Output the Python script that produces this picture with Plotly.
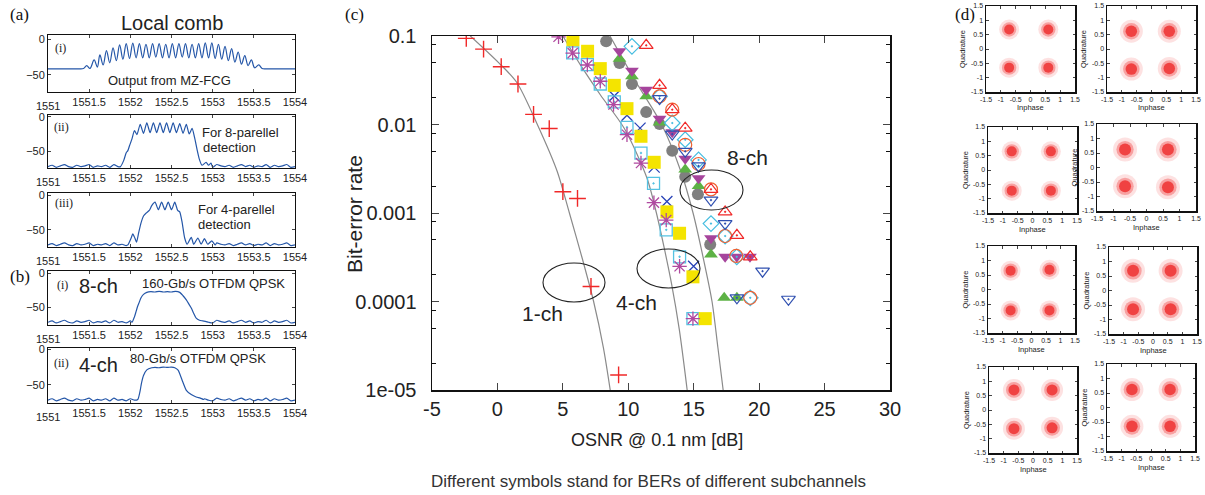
import plotly.graph_objects as go

W, H = 1205, 495
SANS = "Liberation Sans, Arial, sans-serif"
SERIF = "Liberation Serif, Times New Roman, serif"

# ---------------- panel (a)/(b): optical spectra ----------------
comb_wl = [1551.00, 1551.20, 1551.38, 1551.43, 1551.47, 1551.51, 1551.56, 1551.60, 1551.63, 1551.67,
           1551.71, 1551.75, 1551.79, 1551.83, 1551.87, 1551.91, 1551.95, 1551.99, 1552.03, 1552.07,
           1552.11, 1552.15, 1552.19, 1552.23, 1552.27, 1552.31, 1552.35, 1552.39, 1552.43, 1552.47,
           1552.51, 1552.55, 1552.59, 1552.63, 1552.67, 1552.71, 1552.75, 1552.79, 1552.83, 1552.87,
           1552.91, 1552.95, 1552.99, 1553.03, 1553.07, 1553.11, 1553.15, 1553.19, 1553.23, 1553.27,
           1553.31, 1553.35, 1553.39, 1553.43, 1553.47, 1553.51, 1553.56, 1553.60, 1553.66, 1554.00]
comb_db = [-41.5, -41.5, -41.5, -41, -37, -41, -29, -39, -22, -36,
           -16, -33, -12, -30, -8, -28, -6, -27, -5.5, -26,
           -6, -26, -7, -26, -6, -25, -6, -26, -7, -26,
           -6, -26, -6, -25, -6, -26, -7, -26, -6, -26,
           -5, -26, -5, -27, -7, -28, -10, -30, -13, -32,
           -18, -35, -23, -37, -29, -40, -36, -41, -41.5, -41.5]

floor_wl = [1551.00, 1551.05, 1551.10, 1551.15, 1551.20, 1551.25, 1551.30, 1551.35, 1551.40, 1551.45,
            1551.50, 1551.55, 1551.60, 1551.65, 1551.70, 1551.75, 1551.80, 1551.85, 1551.90, 1551.95,
            1552.00, 1552.05, 1552.10, 1552.15, 1552.20, 1552.25, 1552.30, 1552.35, 1552.40, 1552.45,
            1552.50, 1552.55, 1552.60, 1552.65, 1552.70, 1552.75, 1552.80, 1552.85, 1552.90, 1552.95,
            1553.00, 1553.05, 1553.10, 1553.15, 1553.20, 1553.25, 1553.30, 1553.35, 1553.40, 1553.45,
            1553.50, 1553.55, 1553.60, 1553.65, 1553.70, 1553.75, 1553.80, 1553.85, 1553.90, 1553.95,
            1554.00]
floor_db = [-72, -70, -73, -71, -69, -72, -73, -70, -72, -71,
            -69, -73, -71, -72, -70, -73, -69, -72, -71, -73,
            -70, -72, -69, -73, -71, -72, -70, -73, -71, -69,
            -72, -73, -70, -71, -72, -69, -73, -71, -70, -72,
            -73, -69, -71, -72, -70, -73, -71, -69, -72, -70,
            -73, -71, -72, -69, -73, -70, -72, -71, -69, -73,
            -72]

par8_wl = [1551.88, 1551.92, 1551.95, 1551.97, 1551.99, 1552.02, 1552.05, 1552.08, 1552.12, 1552.16,
           1552.20, 1552.24, 1552.28, 1552.32, 1552.36, 1552.40, 1552.44, 1552.48, 1552.52, 1552.56,
           1552.60, 1552.64, 1552.68, 1552.715, 1552.75, 1552.78, 1552.81, 1552.84, 1552.87, 1552.92,
           1552.95, 1552.98]
par8_db = [-72, -63, -52, -49, -42, -32, -20, -26, -11, -24,
           -9, -23, -9, -23, -9, -23, -9, -23, -9, -23,
           -10, -24, -11, -25, -17, -30, -47, -62, -70, -66,
           -70, -67]

par4_wl = [1551.97, 1552.01, 1552.03, 1552.055, 1552.075, 1552.10, 1552.13, 1552.16, 1552.19, 1552.23,
           1552.26, 1552.30, 1552.34, 1552.38, 1552.42, 1552.46, 1552.50, 1552.54, 1552.575, 1552.60,
           1552.63, 1552.66, 1552.69, 1552.74, 1552.77, 1552.82, 1552.86, 1552.90, 1552.94, 1552.99,
           1553.03]
par4_db = [-72, -62, -56, -62, -68, -55, -40, -30, -26, -22,
           -15, -10, -21, -10, -21, -10, -21, -10, -22, -24,
           -40, -62, -71, -61, -71, -62, -71, -63, -71, -66,
           -72]

sig8_wl = [1552.02, 1552.05, 1552.07, 1552.09, 1552.11, 1552.13, 1552.16, 1552.20, 1552.25, 1552.30,
           1552.35, 1552.40, 1552.45, 1552.50, 1552.55, 1552.60, 1552.64, 1552.68, 1552.71, 1552.74,
           1552.77, 1552.80, 1552.84, 1552.88, 1552.92]
sig8_db = [-72, -64, -56, -48, -42, -36, -31, -28, -27, -27.5,
           -26.5, -27.5, -27, -27.5, -26.5, -28, -33, -39, -45, -51,
           -59, -66, -69, -70, -71]

sig4_wl = [1552.09, 1552.12, 1552.135, 1552.16, 1552.20, 1552.26, 1552.30, 1552.35, 1552.40, 1552.45,
           1552.50, 1552.54, 1552.58, 1552.63, 1552.68, 1552.74, 1552.80, 1552.85, 1552.89]
sig4_db = [-71, -58, -48, -37, -29, -26, -25.5, -26, -25, -25.5,
           -25, -26, -29.5, -44, -58, -64, -67.5, -69, -71]

spec_tickvals = [1551, 1551.5, 1552, 1552.5, 1553, 1553.5, 1554]
spec_ticktext = ["", "1551.5", "1552", "1552.5", "1553", "1553.5", "1554"]

# ---------------- panel (c): BER vs OSNR ----------------
osnr_1ch = [-2.38, -1.06, 0.29, 1.57, 2.76, 3.96, 5.0, 6.12, 7.15, 9.26]
ber_1ch = [0.094, 0.071, 0.045, 0.0287, 0.013, 0.0090, 0.00174, 0.00146, 0.000148, 1.48e-5]

osnr_4ch_x = [8.93, 9.9, 10.9, 11.98, 12.95, 14.99]
ber_4ch_x = [0.021, 0.0127, 0.0091, 0.0033, 0.00135, 0.00025]
osnr_4ch_star = [4.67, 5.75, 6.87, 7.86, 8.87, 9.9, 10.97, 11.96, 12.9, 13.92, 14.94]
ber_4ch_star = [0.098, 0.064, 0.047, 0.0308, 0.0168, 0.00767, 0.00367, 0.00131, 0.00083, 0.00025, 6.4e-5]
osnr_4ch_osq = [5.75, 6.87, 7.86, 8.93, 9.9, 10.97, 11.93, 12.9, 13.92, 14.94]
ber_4ch_osq = [0.0643, 0.0474, 0.0287, 0.018, 0.0093, 0.00476, 0.00216, 0.000645, 0.00032, 6.4e-5]
osnr_4ch_fsq = [5.77, 6.89, 7.86, 8.93, 9.9, 10.97, 11.98, 12.95, 13.92, 14.94, 15.88]
ber_4ch_fsq = [0.0908, 0.0672, 0.0428, 0.0277, 0.0151, 0.00736, 0.00374, 0.00103, 0.00059, 0.00019, 6.4e-5]

osnr_8ch_gc = [8.31, 9.33, 10.28, 11.37, 12.39, 13.36, 14.35, 15.32, 16.26]
ber_8ch_gc = [0.087, 0.0495, 0.0287, 0.0138, 0.0101, 0.00506, 0.00257, 0.00163, 0.00044]
osnr_8ch_mdt = [9.33, 10.28, 11.37, 12.39, 13.36, 14.35, 15.37, 16.32, 17.4, 18.29, 19.3]
ber_8ch_mdt = [0.0672, 0.0405, 0.0247, 0.0116, 0.0082, 0.0041, 0.00247, 0.00052, 0.00032, 0.00032, 0.00032]
osnr_8ch_gut = [9.33, 10.28, 11.37, 12.39, 14.35, 15.37, 16.32, 17.33, 18.3]
ber_8ch_gut = [0.0555, 0.035, 0.0208, 0.0105, 0.0031, 0.00202, 0.00034, 0.00011, 0.00011]
osnr_8ch_dia = [10.28, 12.39, 13.36, 14.35, 15.37, 16.32, 17.4, 18.29, 19.32]
ber_8ch_dia = [0.0765, 0.0208, 0.0104, 0.00673, 0.00398, 0.00076, 0.00055, 0.00032, 0.00011]
osnr_8ch_rut = [11.37, 12.39, 13.36, 14.35, 16.32, 17.4, 18.3, 19.32]
ber_8ch_rut = [0.0785, 0.0277, 0.0147, 0.0091, 0.00185, 0.00103, 0.00056, 0.00032]
osnr_8ch_oc = [12.39, 13.36, 14.35, 15.37, 16.32, 17.4, 18.25, 19.32]
ber_8ch_oc = [0.0208, 0.0147, 0.0059, 0.00358, 0.00185, 0.00055, 0.000327, 0.00011]
osnr_8ch_bdt = [12.39, 13.36, 14.35, 15.37, 16.32, 17.4, 18.3, 20.26, 22.24]
ber_8ch_bdt = [0.0196, 0.0078, 0.00498, 0.0034, 0.0014, 0.00076, 0.00011, 0.00022, 0.000106]

curve1_osnr = [-2.07, 0.09, 1.47, 3.05, 4.55, 5.5, 6.5, 7.35, 8.1, 8.62]
curve1_ber = [0.1, 0.05, 0.03, 0.01, 0.003, 0.001, 3e-4, 1e-4, 3e-5, 1e-5]
curve2_osnr = [5.0, 6.33, 7.86, 9.7, 11.42, 12.15, 12.75, 13.3, 13.9, 14.5]
curve2_ber = [0.1, 0.0474, 0.0217, 0.009, 0.0025, 0.001, 4e-4, 1.6e-4, 4.8e-5, 1e-5]
curve3_osnr = [8.6, 10.6, 12.55, 14.0, 14.95, 15.75, 16.4, 16.85, 17.25]
curve3_ber = [0.1, 0.03, 0.01, 0.003, 0.001, 3e-4, 1e-4, 3e-5, 1e-5]

osnr_ticks = [-5, 0, 5, 10, 15, 20, 25, 30]
ber_ticks = [1e-5, 1e-4, 1e-3, 1e-2, 1e-1]
ber_ticktext = ["1e-05", "0.0001", "0.001", "0.01", "0.1"]
ber_minor = [2e-5, 5e-5, 8e-5, 2e-4, 5e-4, 8e-4, 2e-3, 5e-3, 8e-3, 2e-2, 5e-2, 8e-2]

# ---------------- panel (d): constellation cluster centres ----------------
const_I = [[-0.72, 0.60, -0.72, 0.60],
           [-0.68, 0.60, -0.68, 0.60],
           [-0.70, 0.62, -0.70, 0.62],
           [-0.65, 0.65, -0.65, 0.65],
           [-0.72, 0.62, -0.72, 0.62],
           [-0.68, 0.60, -0.68, 0.60],
           [-0.65, 0.65, -0.65, 0.65],
           [-0.65, 0.65, -0.65, 0.65]]
const_Q = [[0.68, 0.68, -0.65, -0.65],
           [0.62, 0.62, -0.70, -0.68],
           [0.65, 0.65, -0.72, -0.72],
           [0.62, 0.62, -0.65, -0.68],
           [0.65, 0.68, -0.72, -0.72],
           [0.68, 0.68, -0.65, -0.65],
           [0.70, 0.70, -0.65, -0.62],
           [0.62, 0.62, -0.65, -0.65]]
const_spread = [20, 23, 20, 24, 20, 24, 22, 23]
iq_ticks = [-1.5, -1, -0.5, 0, 0.5, 1, 1.5]
iq_ticktext = ["-1.5", "-1", "-0.5", "0", "0.5", "1", "1.5"]

# ============================================================
fig = go.Figure()
layout = dict(width=W, height=H, margin=dict(l=0, r=0, t=0, b=0, pad=0, autoexpand=False),
              paper_bgcolor="white", plot_bgcolor="white", showlegend=False, template="none")
annotations = []
shapes = []


def dx(l, r):
    return [l / W, r / W]


def dy(t, b):
    return [1 - b / H, 1 - t / H]


def ann(text, x, y, size, family=SANS, xanchor="center", yanchor="middle", angle=0, color="#222"):
    annotations.append(dict(text=text, x=x / W, y=1 - y / H, xref="paper", yref="paper",
                            showarrow=False, xanchor=xanchor, yanchor=yanchor, textangle=angle,
                            font=dict(size=size, family=family, color=color)))


def axname(i):
    return "" if i == 1 else str(i)


def merged(sig_wl, sig_db):
    pts = [(w, d) for w, d in zip(floor_wl, floor_db) if w < sig_wl[0] or w > sig_wl[-1]]
    pts += list(zip(sig_wl, sig_db))
    pts.sort()
    return [p[0] for p in pts], [p[1] for p in pts]


SPEC_BLUE = "#2456a8"
spectra = [
    (comb_wl, comb_db, 35, 92, [-74, 6], 1.0),
    (*merged(par8_wl, par8_db), 115, 168, [-74, 2.4], 0.6),
    (*merged(par4_wl, par4_db), 193, 247, [-75, 3.3], 0.6),
    (*merged(sig8_wl, sig8_db), 271, 325, [-76, 3.4], 0.6),
    (*merged(sig4_wl, sig4_db), 348, 403, [-76, 2], 0.6),
]
for i, (wl, db, top, bot, yr, sm) in enumerate(spectra, start=1):
    n = axname(i)
    fig.add_trace(go.Scatter(x=wl, y=db, mode="lines", xaxis="x" + n, yaxis="y" + n,
                             line=dict(color=SPEC_BLUE, width=1.2, shape="spline", smoothing=sm),
                             hoverinfo="skip"))
    layout["xaxis" + n] = dict(domain=dx(48, 295), range=[1551, 1554], anchor="y" + n,
                               tickvals=spec_tickvals, ticktext=spec_ticktext, ticks="inside",
                               ticklen=3, mirror="ticks", showline=True, linecolor="#111",
                               linewidth=1, showgrid=False, zeroline=False, automargin=False,
                               tickfont=dict(size=11, family=SANS, color="#222"))
    layout["yaxis" + n] = dict(domain=dy(top, bot), range=yr, anchor="x" + n,
                               tickvals=[-50, 0], ticktext=["\u221250", "0"], ticks="inside",
                               ticklen=3, mirror="ticks", showline=True, linecolor="#111",
                               linewidth=1, showgrid=False, zeroline=False, automargin=False,
                               tickfont=dict(size=11, family=SANS, color="#222"))
    ann("1551", 48, bot + 14, 11)

# panel texts (a)/(b)
ann("(a)", 8, 15, 17, family=SERIF, xanchor="left", color="#111")
ann("Local comb", 172, 23, 20)
ann("(i)", 53, 48, 12, family=SERIF, xanchor="left")
ann("Output from MZ-FCG", 169, 80, 13)
ann("(ii)", 52, 127, 12, family=SERIF, xanchor="left")
ann("For 8-parellel", 200, 133, 13, xanchor="left")
ann("detection", 201, 148, 13, xanchor="left")
ann("(iii)", 53, 203, 12, family=SERIF, xanchor="left")
ann("For 4-parellel", 196, 209, 13, xanchor="left")
ann("detection", 196, 224, 13, xanchor="left")
ann("(b)", 8, 276, 17, family=SERIF, xanchor="left", color="#111")
ann("(i)", 55, 285, 12, family=SERIF, xanchor="left")
ann("8-ch", 77, 286, 20, xanchor="left")
ann("160-Gb/s OTFDM QPSK", 140, 283, 13, xanchor="left")
ann("(ii)", 52, 363, 12, family=SERIF, xanchor="left")
ann("4-ch", 77, 365, 20, xanchor="left")
ann("80-Gb/s OTFDM QPSK", 128, 358, 13, xanchor="left")

# ---------------- panel (c) ----------------
ci = 6
cn = str(ci)
for cx, cy in [(curve1_osnr, curve1_ber), (curve2_osnr, curve2_ber), (curve3_osnr, curve3_ber)]:
    fig.add_trace(go.Scatter(x=cx, y=cy, mode="lines", xaxis="x" + cn, yaxis="y" + cn,
                             line=dict(color="#8a8a8a", width=1.2, shape="spline", smoothing=0.8),
                             hoverinfo="skip"))

series = [
    (osnr_1ch, ber_1ch, "cross-thin", "#f02828", 12, 1.4),
    (osnr_4ch_x, ber_4ch_x, "x-thin", "#2a44b8", 11, 1.3),
    (osnr_4ch_osq, ber_4ch_osq, "square-open-dot", "#55c2e2", 12, 1.3),
    (osnr_4ch_fsq, ber_4ch_fsq, "square", "#f4e400", 13, 0),
    (osnr_4ch_star, ber_4ch_star, "asterisk", "#b04aa0", 12, 1.3),
    (osnr_8ch_gc, ber_8ch_gc, "circle", "#7f7f7f", 12, 0),
    (osnr_8ch_gut, ber_8ch_gut, "triangle-up", "#5db245", 12, 0),
    (osnr_8ch_mdt, ber_8ch_mdt, "triangle-down", "#a6449c", 12, 0),
    (osnr_8ch_dia, ber_8ch_dia, "diamond-open-dot", "#45bde0", 12, 1.2),
    (osnr_8ch_oc, ber_8ch_oc, "circle-open", "#f06030", 13, 1.2),
    (osnr_8ch_rut, ber_8ch_rut, "triangle-up-open-dot", "#f02828", 12, 1.2),
    (osnr_8ch_bdt, ber_8ch_bdt, "triangle-down-open-dot", "#3050b0", 12, 1.2),
]
for sx, sy, sym, col, size, lw in series:
    if lw > 0:
        mk = dict(symbol=sym, size=size, color=col, line=dict(color=col, width=lw))
    else:
        mk = dict(symbol=sym, size=size, color=col, line=dict(width=0))
    fig.add_trace(go.Scatter(x=sx, y=sy, mode="markers", xaxis="x" + cn, yaxis="y" + cn,
                             marker=mk, hoverinfo="skip"))

layout["xaxis" + cn] = dict(domain=dx(432, 890), range=[-5, 30], anchor="y" + cn,
                            tickvals=osnr_ticks, ticktext=[str(v) for v in osnr_ticks],
                            ticks="inside", ticklen=7, mirror="ticks", showline=True,
                            linecolor="#111", linewidth=1.5, showgrid=False, zeroline=False,
                            automargin=False,
                            tickfont=dict(size=20, family=SANS, color="#222"))
layout["yaxis" + cn] = dict(domain=dy(36, 390), type="log", range=[-5, -1], anchor="x" + cn,
                            tickvals=ber_ticks, ticktext=ber_ticktext, ticks="inside",
                            ticklen=7, mirror="ticks", showline=True, linecolor="#111",
                            linewidth=1.5, showgrid=False, zeroline=False, ticklabelstandoff=10,
                            automargin=False,
                            minor=dict(tickmode="array", tickvals=ber_minor, ticks="inside",
                                       ticklen=4, tickcolor="#111", showgrid=False),
                            tickfont=dict(size=20, family=SANS, color="#222"))

ann("(c)", 343, 15, 17, family=SERIF, xanchor="left", color="#111")
ann("Bit-error rate", 354, 214, 21, angle=-90)
ann("OSNR @ 0.1 nm [dB]", 657, 440, 18)
ann("Different symbols stand for BERs of different subchannels", 648, 481, 17, color="#333")
ann("1-ch", 542, 313, 21)
ann("4-ch", 636, 302, 21)
ann("8-ch", 747, 157, 21)

for (l, t, r, b) in [(543, 263, 605, 302), (637, 249, 700, 288), (680, 170, 743, 210)]:
    shapes.append(dict(type="circle", xref="paper", yref="paper", x0=l / W, x1=r / W,
                       y0=1 - b / H, y1=1 - t / H, line=dict(color="#222", width=1.1)))

# ---------------- panel (d) ----------------
boxes = [(986, 6, 1075, 92), (1107, 6, 1196, 92), (988, 127, 1077, 213), (1097, 124, 1196, 211),
         (988, 246, 1075, 333), (1109, 247, 1197, 334), (989, 367, 1077, 453), (1107, 364, 1195, 451)]
RED = "#ee2a2a"
for k, (l, t, r, b) in enumerate(boxes):
    i = 7 + k
    n = str(i)
    sp = const_spread[k]
    for size, op in [(sp, 0.14), (sp * 0.72, 0.35), (sp * 0.5, 0.8)]:
        fig.add_trace(go.Scatter(x=const_I[k], y=const_Q[k], mode="markers",
                                 xaxis="x" + n, yaxis="y" + n, hoverinfo="skip",
                                 marker=dict(size=size, color=RED, opacity=op, line=dict(width=0))))
    common = dict(range=[-1.5, 1.5], tickvals=iq_ticks, ticktext=iq_ticktext, ticks="inside",
                  ticklen=2.5, mirror="ticks", showline=True, linecolor="#111", linewidth=1.5,
                  showgrid=False, zeroline=False, automargin=False,
                  tickfont=dict(size=7, family=SANS, color="#222"))
    layout["xaxis" + n] = dict(domain=dx(l, r), anchor="y" + n, **common)
    layout["yaxis" + n] = dict(domain=dy(t, b), anchor="x" + n, **common)
    ann("Inphase", (l + r) / 2, b + 16, 7.5)
    ann("Quadrature", l - 23, (t + b) / 2, 7.5, angle=-90)

ann("(d)", 953, 15, 17, family=SERIF, xanchor="left", color="#111")

layout["annotations"] = annotations
layout["shapes"] = shapes
fig.update_layout(**layout)
fig.write_html("out.html", config={"displayModeBar": False, "staticPlot": True},
               post_script="document.body.style.margin='0px';document.body.style.overflow='hidden';")
